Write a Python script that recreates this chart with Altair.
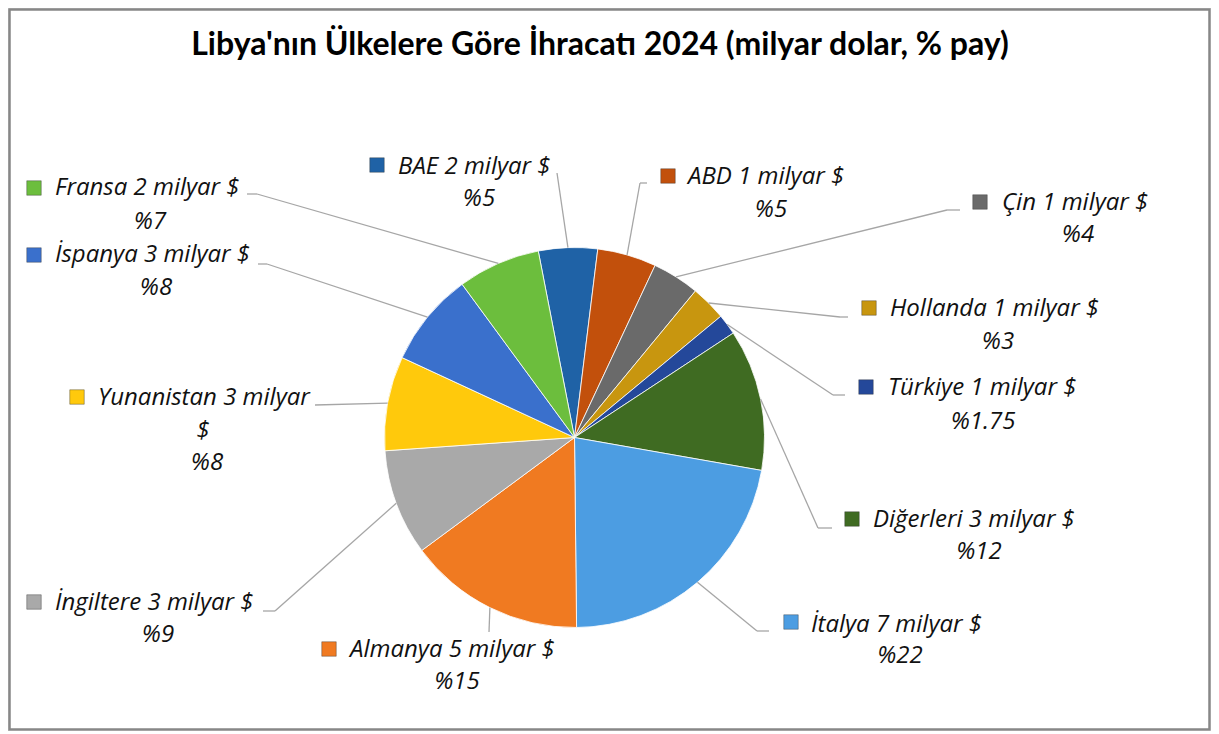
import math
import altair as alt
import pandas as pd

# ---------------- data ----------------
countries = ["BAE", "ABD", "Çin", "Hollanda", "Türkiye", "Diğerleri",
             "İtalya", "Almanya", "İngiltere", "Yunanistan", "İspanya", "Fransa"]
values_bn = [2, 1, 1, 1, 1, 3, 7, 5, 3, 3, 3, 2]
shares = [5, 5, 4, 3, 1.75, 12, 22, 15, 9, 8, 8, 7]
share_labels = ["%5", "%5", "%4", "%3", "%1.75", "%12", "%22", "%15", "%9", "%8", "%8", "%7"]
unit = "milyar $"
title_text = "Libya'nın Ülkelere Göre İhracatı 2024 (milyar dolar, % pay)"

# ---------------- styles ----------------
colors = ["#1F62A6", "#C2500C", "#6A6A6A", "#C8960F", "#24489A", "#3F6B22",
          "#4C9DE2", "#F07A21", "#A9A9A9", "#FFC90C", "#3A70CC", "#6CBE3D"]
TITLE_FONT = "Lato"
LABEL_FONT = "Open Sans"

# ---------------- layout (page pixel coordinates) ----------------
PAGE_MARGIN = 8
W, H = 1203, 723
CX, CY, R = 574.5, 437.5, 190
START = math.radians(-11)

marker_pos = [(377, 165), (668, 176), (980, 202), (869, 308), (866, 387), (852, 519),
              (791, 622), (329, 649), (34, 602), (77, 397), (34, 255), (34, 188)]
line1_pos = [(398, 167), (688, 177), (1002, 203), (890, 309), (888, 388), (873, 520),
             (811, 625), (350, 650), (55, 603), (98, 398), (55, 255), (55, 188)]
pct_pos = [(479, 199), (771, 210), (1078, 235), (998, 342), (983, 422), (979, 552),
           (900, 656), (457, 682), (158, 635), (207, 463), (156, 288), (150, 222)]
elbow_pos = [(557, 173), (640, 183), (947, 210), (840, 317), (833, 395), (818, 528),
             (757, 631), (489, 632), (275, 611), (315, 405), (267, 264), (257, 194)]
end_pos = [(557, 173), (647, 183), (960, 210), (848, 317), (845, 395), (832, 528),
           (769, 631), (489, 632), (263, 611), (315, 405), (258, 264), (247, 194)]
wrap_pos = {"Yunanistan": (203, 431)}


def v(p):
    return p - PAGE_MARGIN


rows = []
for i, c in enumerate(countries):
    line1 = f"{c} {values_bn[i]} {unit}"
    line1b = ""
    wx, wy = 0, 0
    if c in wrap_pos:
        line1 = f"{c} {values_bn[i]} {unit.split(' ')[0]}"
        line1b = unit.split(" ")[1]
        wx, wy = v(wrap_pos[c][0]), v(wrap_pos[c][1])
    rows.append(dict(
        country=c, value=values_bn[i], share=shares[i], pct=share_labels[i], order=i,
        line1=line1, line1b=line1b, wx=wx, wy=wy,
        mx=v(marker_pos[i][0]), my=v(marker_pos[i][1]),
        tx=v(line1_pos[i][0]), ty=v(line1_pos[i][1]),
        px=v(pct_pos[i][0]), py=v(pct_pos[i][1]),
        ex=v(elbow_pos[i][0]), ey=v(elbow_pos[i][1]),
        fx=v(end_pos[i][0]), fy=v(end_pos[i][1]),
    ))
df = pd.DataFrame(rows)

color = alt.Color("country:N", scale=alt.Scale(domain=countries, range=colors), legend=None)
base = alt.Chart(df)

pie = base.mark_arc(outerRadius=R, stroke="#ffffff", strokeWidth=0.8).encode(
    theta=alt.Theta("share:Q", stack=True,
                    scale=alt.Scale(range=[START, START + 2 * math.pi])),
    order=alt.Order("order:Q"),
    color=color,
    x=alt.value(v(CX)),
    y=alt.value(v(CY)),
)

leader_base = base.transform_window(
    cum="sum(share)", sort=[alt.SortField("order")]
).transform_joinaggregate(
    total="sum(share)"
).transform_calculate(
    mid=f"{START} + 2*PI*(datum.cum - datum.share/2)/datum.total"
).transform_calculate(
    sx=f"{v(CX)} + {R}*sin(datum.mid)",
    sy=f"{v(CY)} - {R}*cos(datum.mid)",
)

leader1 = leader_base.mark_rule(color="#A6A6A6", strokeWidth=1.3).encode(
    x=alt.X("sx:Q", scale=None), y=alt.Y("sy:Q", scale=None),
    x2="ex:Q", y2="ey:Q",
)
leader2 = base.mark_rule(color="#A6A6A6", strokeWidth=1.3).encode(
    x=alt.X("ex:Q", scale=None), y=alt.Y("ey:Q", scale=None),
    x2="fx:Q", y2="fy:Q",
)

markers = base.mark_square(size=210, opacity=1, stroke="#333333", strokeWidth=0.4).encode(
    x=alt.X("mx:Q", scale=None), y=alt.Y("my:Q", scale=None), color=color,
)

txt = dict(font=LABEL_FONT, fontStyle="italic", fontSize=24, color="#111111", baseline="middle")
line1 = base.mark_text(align="left", **txt).encode(
    x=alt.X("tx:Q", scale=None), y=alt.Y("ty:Q", scale=None), text="line1:N",
)
line1b = base.transform_filter("datum.line1b != ''").mark_text(align="center", **txt).encode(
    x=alt.X("wx:Q", scale=None), y=alt.Y("wy:Q", scale=None), text="line1b:N",
)
pct = base.mark_text(align="center", **txt).encode(
    x=alt.X("px:Q", scale=None), y=alt.Y("py:Q", scale=None), text="pct:N",
)

title = alt.Chart(pd.DataFrame({"t": [title_text]})).mark_text(
    font=TITLE_FONT, fontWeight="bold", fontSize=32, color="#000000",
    align="center", baseline="middle",
).encode(x=alt.value(v(600)), y=alt.value(v(45)), text="t:N")

frame = alt.Chart(pd.DataFrame({"f": [0]})).mark_rect(
    filled=False, stroke="#878787", strokeWidth=2.5,
).encode(x=alt.value(1.5), x2=alt.value(W - 1.5), y=alt.value(1.5), y2=alt.value(H - 1.5))

chart = alt.layer(frame, pie, leader1, leader2, markers, line1, line1b, pct, title).properties(
    width=W, height=H,
    autosize=alt.AutoSizeParams(type="none"),
    padding=0,
).configure_view(
    strokeWidth=0,
).configure(background="#ffffff")

chart.save("out.html", embed_options={"renderer": "svg", "actions": False})
